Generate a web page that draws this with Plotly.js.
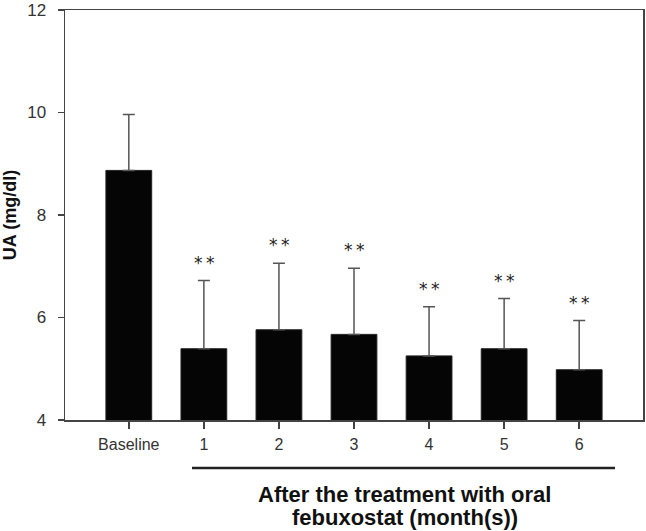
<!DOCTYPE html>
<html>
<head>
<meta charset="utf-8">
<script src="https://cdn.plot.ly/plotly-3.0.1.min.js"></script>
<style>html,body{margin:0;padding:0;background:#fff;}#chart{width:646px;height:531px;}</style>
</head>
<body>
<div id="chart"></div>
<script>
// Data
const categories = ["Baseline", "1", "2", "3", "4", "5", "6"];
const uaMean = [8.87, 5.39, 5.76, 5.67, 5.25, 5.39, 4.98];
const uaSD = [1.09, 1.33, 1.30, 1.29, 0.96, 0.98, 0.96];
const significance = ["", "*\u2009*", "*\u2009*", "*\u2009*", "*\u2009*", "*\u2009*", "*\u2009*"];
const yTicks = [4, 6, 8, 10, 12];

const FONT = "Liberation Sans, Arial, Helvetica, sans-serif";

const trace = {
  type: "bar",
  x: categories,
  y: uaMean,
  width: 0.61,
  marker: {color: "#050505", line: {color: "#222", width: 1}},
  error_y: {
    type: "data",
    symmetric: false,
    array: uaSD,
    arrayminus: uaSD.map(() => 0),
    color: "#555",
    thickness: 1.5,
    width: 6
  },
  hoverinfo: "none"
};

const annotations = [];
categories.forEach((c, i) => {
  if (significance[i]) {
    annotations.push({
      x: c, y: uaMean[i] + uaSD[i], xref: "x", yref: "y",
      text: significance[i], showarrow: false,
      yanchor: "middle", yshift: 18,
      font: {family: "DejaVu Sans, sans-serif", size: 17, color: "#222"}
    });
  }
});
annotations.push({
  x: 0.588, y: -0.182, xref: "paper", yref: "paper",
  text: "<b>After the treatment with oral</b>", showarrow: false,
  xanchor: "center", yanchor: "middle",
  font: {family: FONT, size: 22, color: "#111"}
});
annotations.push({
  x: 0.588, y: -0.237, xref: "paper", yref: "paper",
  text: "<b>febuxostat (month(s))</b>", showarrow: false,
  xanchor: "center", yanchor: "middle",
  font: {family: FONT, size: 22, color: "#111"}
});

const layout = {
  width: 646, height: 531,
  margin: {l: 65, r: 3, t: 10, b: 111},
  paper_bgcolor: "#fff", plot_bgcolor: "#fff",
  showlegend: false,
  font: {family: FONT, color: "#333"},
  xaxis: {
    type: "category",
    range: [-0.85, 6.85],
    showline: true, mirror: true, linecolor: "#444", linewidth: 1.5,
    ticks: "outside", ticklen: 7, tickwidth: 1.5, tickcolor: "#444",
    ticklabelstandoff: 2,
    tickfont: {family: FONT, size: 16, color: "#333"},
    showgrid: false, zeroline: false, fixedrange: true
  },
  yaxis: {
    range: [3.999, 12.001],
    tickvals: yTicks,
    ticktext: yTicks.map(String),
    showline: true, mirror: true, linecolor: "#444", linewidth: 1.5,
    ticks: "outside", ticklen: 6, tickwidth: 1.5, tickcolor: "#444",
    ticklabelstandoff: 8,
    ticklabeloverflow: "allow",
    tickfont: {family: FONT, size: 17, color: "#333"},
    title: {text: "<b>UA (mg/dl)</b>", font: {family: FONT, size: 18, color: "#111"}, standoff: 8},
    showgrid: false, zeroline: false, fixedrange: true
  },
  shapes: [{
    type: "line", xref: "paper", yref: "paper",
    x0: 0.2197, x1: 0.9516, y0: -0.1171, y1: -0.1171,
    line: {color: "#222", width: 2.5}
  }],
  annotations: annotations
};

Plotly.newPlot("chart", [trace], layout, {displayModeBar: false, staticPlot: true});
</script>
</body>
</html>
